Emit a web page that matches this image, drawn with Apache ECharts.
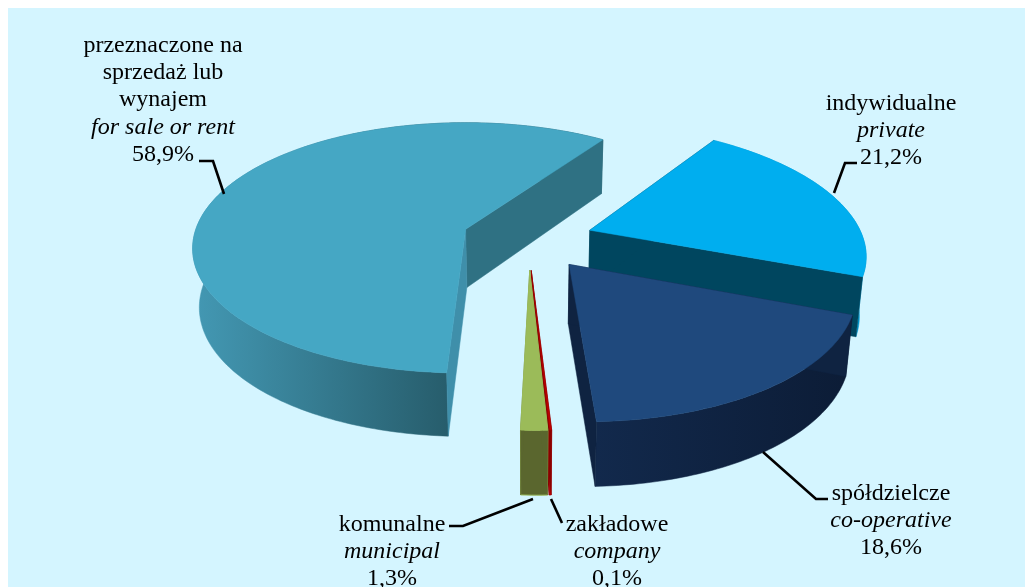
<!DOCTYPE html>
<html>
<head>
<meta charset="utf-8">
<style>
  html, body { margin: 0; padding: 0; background: #fff; }
  #chart { width: 1025px; height: 587px; }
</style>
<script src="https://cdn.jsdelivr.net/npm/echarts@6/dist/echarts.min.js"></script>
</head>
<body>
<div id="chart"></div>
<script>
// clockwise from the first cut
const names = ['indywidualne', 'spółdzielcze', 'zakładowe', 'komunalne', 'przeznaczone na\nsprzedaż lub\nwynajem']
const namesEn = ['private', 'co-operative', 'company', 'municipal', 'for sale or rent']
const shares = [21.2, 18.6, 0.1, 1.3, 58.9]
const shareLabels = ['21,2%', '18,6%', '0,1%', '1,3%', '58,9%']

// projection of the tilted pie
const view = { x0: 528, y0: 239, r: 273, tilt: 0.459, persp: 0.15, shear: 0.03, explode: 66, startDeg: 34.8 }

const lg = (x1, x2, c1, c2) => new echarts.graphic.LinearGradient(x1, 0, x2, 0, [
  { offset: 0, color: c1 },
  { offset: 1, color: c2 },
], true)

// cutA is the face at the slice's first angle, cutB at its last
const sliceStyles = [
  { top: '#00aeef', cutA: '#00465f', cutB: '#00465f', outer: '#0093c8' },
  { top: '#1f497d', cutA: '#0f2341', cutB: '#0f2341', outer: lg(595, 850, '#12294c', '#0c1c36') },
  { top: '#c00000', cutA: '#8a0000', cutB: '#8a0000', outer: '#dd0000', line: '#a00000', lineWidth: 0.6, nudge: -1 },
  { top: '#9bbb59', cutA: '#5a662e', cutB: '#5a662e', outer: '#5a662e', line: '#9bbb59', lineWidth: 1, nudge: 0.5 },
  { top: '#45a7c4', cutA: '#3f8faa', cutB: '#2f7183', outer: lg(195, 447, '#4398b3', '#275d6c') },
]
// back to front
const drawOrder = [4, 0, 1, 2, 3]

const total = shares.reduce((a, b) => a + b, 0)

function sliceAngles(i) {
  let a = view.startDeg
  for (let j = 0; j < i; j++) a += shares[j] / total * 360
  return [a, a + shares[i] / total * 360]
}

function projTop(gx, gy) {
  const k = 1 / (1 - view.persp * gy / view.r)
  return [view.x0 + gx * k + view.shear * gy, view.y0 + view.tilt * gy * k]
}

function projBottom(gx, gy) {
  const p = projTop(gx, gy)
  const depth = 58.6 + 0.0188 * gy
  return [view.x0 + (p[0] - view.x0) * 0.98, p[1] + depth]
}

function poly(points, fill, line, lineWidth) {
  return {
    type: 'polygon',
    shape: { points: points },
    style: { fill: fill, stroke: line || fill, lineWidth: line ? lineWidth : 0.5 },
  }
}

function renderSlice(params, api) {
  const idx = api.value(0)
  const st = sliceStyles[idx]
  const [a0, a1] = sliceAngles(idx)
  const mid = (a0 + a1) / 2 * Math.PI / 180
  const cx = view.explode * Math.sin(mid) + (st.nudge || 0)
  const cy = -view.explode * Math.cos(mid)

  const arc = []
  const steps = Math.max(2, Math.ceil(a1 - a0))
  for (let s = 0; s <= steps; s++) {
    const t = (a0 + (a1 - a0) * s / steps) * Math.PI / 180
    arc.push([cx + view.r * Math.sin(t), cy - view.r * Math.cos(t)])
  }
  const topArc = arc.map(p => projTop(p[0], p[1]))
  const botArc = arc.map(p => projBottom(p[0], p[1]))
  const apexT = projTop(cx, cy)
  const apexB = projBottom(cx, cy)
  const last = arc.length - 1

  return {
    type: 'group',
    children: [
      poly(topArc.concat(botArc.slice().reverse()), st.outer, st.line, st.lineWidth),
      poly([apexT, topArc[last], botArc[last], apexB], st.cutB),
      poly([apexT, topArc[0], botArc[0], apexB], st.cutA),
      poly([apexT].concat(topArc), st.top, st.line, st.lineWidth),
    ],
  }
}

const leaderLines = [
  [[857, 163], [845, 163], [834, 193]],
  [[828, 499], [816, 499], [763, 452]],
  [[562, 523], [551, 499]],
  [[449, 526], [463, 526], [533, 499]],
  [[199, 161], [213, 161], [224, 194]],
]
const labelPos = [[891, 90], [891, 480], [617, 511], [392, 511], [163, 32]]

const textRich = {
  n: { fontFamily: 'Liberation Serif', fontSize: 24, lineHeight: 27.2, color: '#111' },
  i: { fontFamily: 'Liberation Serif', fontSize: 24, lineHeight: 27.2, fontStyle: 'italic', color: '#111' },
}

const labelEls = names.map((n, i) => ({
  type: 'text',
  z: 10,
  x: labelPos[i][0],
  y: labelPos[i][1],
  style: {
    text: n.split('\n').map(l => '{n|' + l + '}').join('\n') + '\n{i|' + namesEn[i] + '}\n{n|' + shareLabels[i] + '}',
    rich: textRich,
    align: 'center',
    verticalAlign: 'top',
  },
}))

const lineEls = leaderLines.map(pts => ({
  type: 'polyline',
  z: 10,
  shape: { points: pts },
  style: { stroke: '#000', lineWidth: 2.6, fill: null },
}))

const chart = echarts.init(document.getElementById('chart'), null, { renderer: 'canvas' })
chart.setOption({
  animation: false,
  backgroundColor: '#fff',
  graphic: [
    { type: 'rect', z: -1, shape: { x: 8, y: 8, width: 1017, height: 579 }, style: { fill: '#d4f5ff' } },
  ].concat(lineEls, labelEls),
  series: [{
    type: 'custom',
    coordinateSystem: 'none',
    renderItem: renderSlice,
    data: drawOrder.map(i => [i, shares[i]]),
    encode: { value: 1 },
    z: 2,
  }],
})
</script>
</body>
</html>
